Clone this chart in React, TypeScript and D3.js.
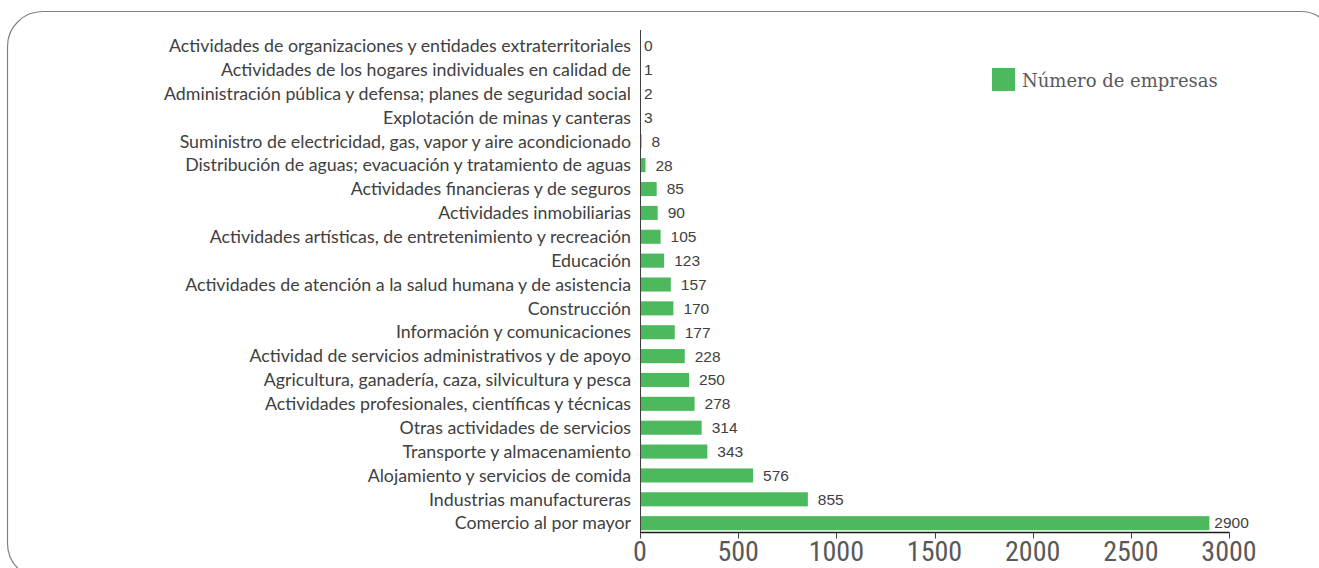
import React from "react";
import * as d3 from "d3";

const categories: string[] = [
  "Actividades de organizaciones y entidades extraterritoriales",
  "Actividades de los hogares individuales en calidad de",
  "Administración pública y defensa; planes de seguridad social",
  "Explotación de minas y canteras",
  "Suministro de electricidad, gas, vapor y aire acondicionado",
  "Distribución de aguas; evacuación y tratamiento de aguas",
  "Actividades financieras y de seguros",
  "Actividades inmobiliarias",
  "Actividades artísticas, de entretenimiento y recreación",
  "Educación",
  "Actividades de atención a la salud humana y de asistencia",
  "Construcción",
  "Información y comunicaciones",
  "Actividad de servicios administrativos y de apoyo",
  "Agricultura, ganadería, caza, silvicultura y pesca",
  "Actividades profesionales, científicas y técnicas",
  "Otras actividades de servicios",
  "Transporte y almacenamiento",
  "Alojamiento y servicios de comida",
  "Industrias manufactureras",
  "Comercio al por mayor",
];
const values: number[] = [0, 1, 2, 3, 8, 28, 85, 90, 105, 123, 157, 170, 177, 228, 250, 278, 314, 343, 576, 855, 2900];
const xTicks: number[] = [0, 500, 1000, 1500, 2000, 2500, 3000];
const seriesName = "Número de empresas";

const W = 1319;
const H = 568;
const BAR = "#4cb95c";

export default function App() {
  const x = d3.scaleLinear().domain([0, 3000]).range([640, 1229]);
  const y = d3.scaleBand<string>().domain(categories).range([34, 535]).paddingInner(0.41).paddingOuter(0.2);
  const axisY = 532.5;
  return (
    <svg width={W} height={H} style={{ position: "absolute", left: 0, top: 0 }}>
      <rect x={7.5} y={11.5} width={1328} height={567} rx={35} ry={35} fill="white" stroke="#808080" strokeWidth={1.2} />
      {categories.map((c, i) => {
        const yc = (y(c) as number) + y.bandwidth() / 2;
        const v = values[i];
        const bx = x(v);
        let lx: number;
        let ly = yc;
        if (v < 5) lx = x(0) + 4;
        else if (v > 2000) { lx = bx + 5; ly = yc - 1; }
        else lx = bx + 10;
        return (
          <g key={c}>
            <text x={631} y={yc} dy="0.35em" textAnchor="end" fontFamily="Lato, 'Open Sans', sans-serif" fontSize={17.8} fill="#404040">{c}</text>
            {v > 0 && <rect x={x(0)} y={y(c) as number} width={bx - x(0)} height={y.bandwidth()} fill={BAR} />}
            <text x={lx} y={ly} dy="0.35em" fontFamily="'Liberation Sans', Arial, sans-serif" fontSize={15.5} fill="#404040">{v}</text>
          </g>
        );
      })}
      <line x1={640.5} x2={640.5} y1={30} y2={axisY} stroke="#404040" strokeWidth={1} />
      <line x1={640} x2={x(3000) + 0.5} y1={axisY} y2={axisY} stroke="#1a1a1a" strokeWidth={1.5} />
      {xTicks.map((t) => (
        <g key={t}>
          <line x1={Math.round(x(t)) + 0.5} x2={Math.round(x(t)) + 0.5} y1={axisY} y2={axisY + 6} stroke="#404040" strokeWidth={1} />
          <text x={x(t)} y={561} textAnchor="middle" fontFamily="'Liberation Sans Narrow', 'Roboto Condensed', sans-serif" fontSize={28} fill="#595959">{t}</text>
        </g>
      ))}
      <rect x={992} y={68} width={23} height={23} fill={BAR} />
      <text x={1022} y={87} fontFamily="'DejaVu Serif', serif" fontSize={18} fill="#595959">{seriesName}</text>
    </svg>
  );
}
